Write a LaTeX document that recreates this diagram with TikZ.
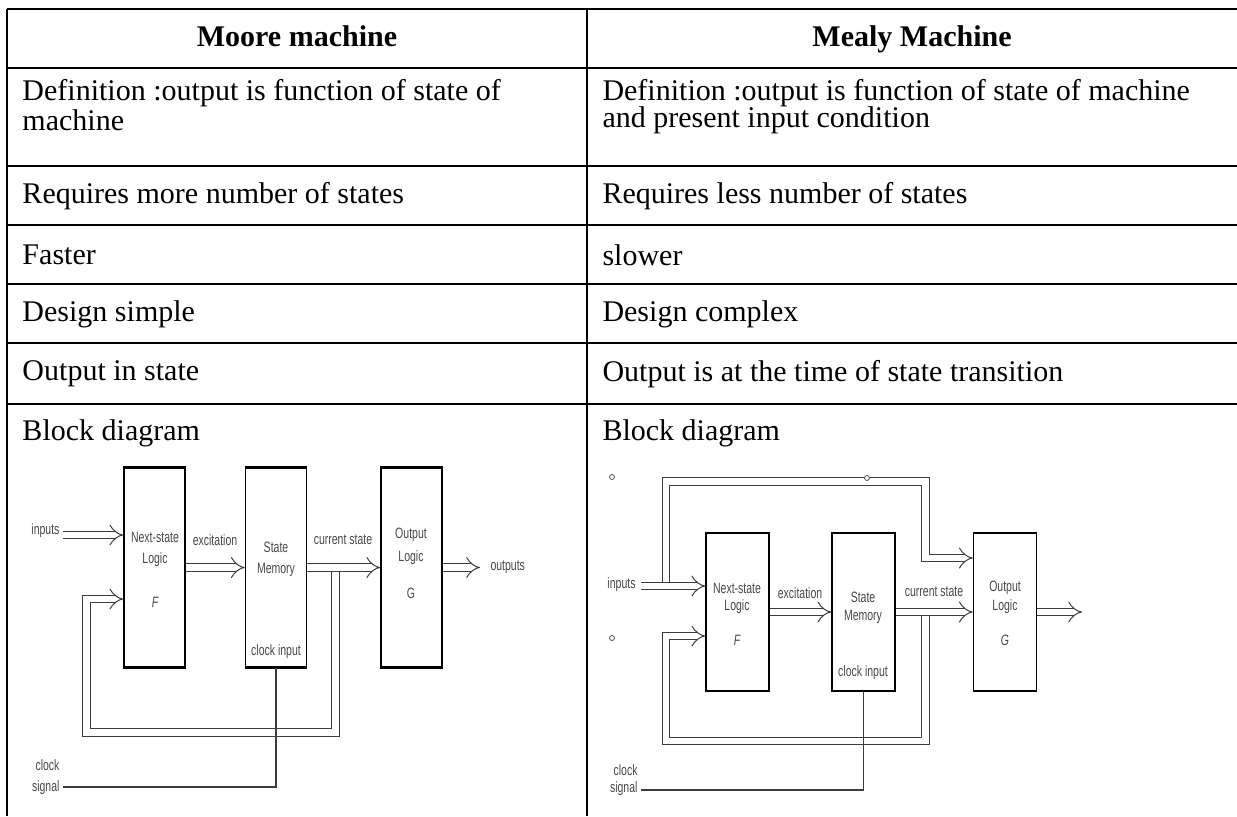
\documentclass[tikz,border=0pt]{standalone}
\usepackage{fontspec}
\setmainfont{Liberation Serif}
\newfontfamily\blockfont[FakeStretch=0.7]{Liberation Sans}
\usetikzlibrary{arrows.meta}
\definecolor{wireGray}{HTML}{3c3c3c}
\definecolor{labelGray}{HTML}{474747}
\tikzset{
  gridline/.style={line width=0.9pt},
  cell/.style={font=\fontsize{12}{13.8}\selectfont, anchor=west, inner sep=0pt},
  head/.style={font=\fontsize{12}{13.8}\selectfont\bfseries, anchor=base, inner sep=0pt},
  block/.style={draw=black, line width=0.6pt, inner sep=0pt},
  tag/.style={font=\blockfont\fontsize{6}{7}\selectfont, text=labelGray, inner sep=0pt},
  bus/.style={draw=wireGray, line width=0.4pt, double, double distance=2.6pt, -{Implies}},
  wire/.style={draw=wireGray, line width=0.45pt}
}
\begin{document}
\begin{tikzpicture}[x=0.4pt,y=-0.4pt]
\useasboundingbox (0,0) rectangle (1237,816);

% table rules
\foreach \y in {9,68,166,225,284,343,404}
  \draw[gridline] (7,\y) -- (1237,\y);
\draw[gridline] (7,9) -- (7,816);
\draw[gridline] (587,9) -- (587,816);

% table text
\node[head] (mooreHead) at (297,46) {Moore machine};
\node[head] (mealyHead) at (912,46) {Mealy Machine};
\node[cell] (mooreDef) at (22,93) {Definition :output is function of state of};
\node[cell] (mooreDefB) at (22,120) {machine};
\node[cell] (mealyDef) at (602,93) {Definition :output is function of state of machine};
\node[cell] (mealyDefB) at (602,120) {and present input condition};
\node[cell] (mooreStates) at (22,196) {Requires more number of states};
\node[cell] (mealyStates) at (602,196) {Requires less number of states};
\node[cell] (mooreSpeed) at (22,255) {Faster};
\node[cell] (mealySpeed) at (602,255) {slower};
\node[cell] (mooreDesign) at (22,314) {Design simple};
\node[cell] (mealyDesign) at (602,314) {Design complex};
\node[cell] (mooreOutput) at (22,374) {Output in state};
\node[cell] (mealyOutput) at (602,374) {Output is at the time of state transition};
\node[cell] (mooreBlock) at (22,433) {Block diagram};
\node[cell] (mealyBlock) at (602,433) {Block diagram};

% Moore block diagram
\tikzset{block/.append style={minimum width=24.4pt, minimum height=79.6pt}}
\node[block] (mooreNext) at (154.5,567.5) {};
\node[block] (mooreMem) at (276,567.5) {};
\node[block] (mooreOut) at (411.5,567.5) {};
\foreach \b in {mooreNext,mooreMem,mooreOut} {
  \draw[line width=1.2pt] (\b.north west) -- (\b.north east);
  \draw[line width=1.2pt] (\b.south west) -- (\b.south east);
}
\node[tag] (mooreNextA) at (155,537) {Next-state};
\node[tag] (mooreNextB) at (155,560) {Logic};
\node[tag] (mooreNextC) at (155,602) {\itshape F};
\node[tag] (mooreMemA) at (276,547) {State};
\node[tag] (mooreMemB) at (276,570) {Memory};
\node[tag] (mooreMemC) at (276,652) {clock input};
\node[tag] (mooreOutA) at (411,535) {Output};
\node[tag] (mooreOutB) at (411,558) {Logic};
\node[tag] (mooreOutC) at (411,593) {G};

\coordinate (mooreIn) at (63,535);
\coordinate (mooreOutEnd) at (480,567.5);
\coordinate (mooreTap) at (335.5,571.5);
\coordinate (mooreFbR) at (335.5,732.5);
\coordinate (mooreFbL) at (86.5,732.5);
\coordinate (mooreClk) at (63,787);
\draw[bus] (mooreIn) -- (mooreIn -| mooreNext.west);
\draw[bus] (mooreNext) -- (mooreMem);
\draw[bus] (mooreMem) -- (mooreOut);
\draw[bus] (mooreOut) -- (mooreOutEnd);
\draw[bus] (mooreTap) -- (mooreFbR) -- (mooreFbL) |- ([yshift=-12.6pt]mooreNext.west);
\draw[wire] (mooreClk) -| (mooreMem.south);

\node[tag, anchor=east] (mooreInTxt) at (60,531) {inputs};
\node[tag] (mooreExc) at (215,540) {excitation};
\node[tag] (mooreCur) at (343,540) {current state};
\node[tag, anchor=west] (mooreOutTxt) at (490,567) {outputs};
\node[tag, anchor=east] (mooreClkA) at (60,765) {clock};
\node[tag, anchor=east] (mooreClkB) at (60,788) {signal};

% Mealy block diagram
\tikzset{block/.append style={minimum width=25.2pt, minimum height=63.2pt}}
\node[block] (mealyNext) at (737.5,612) {};
\node[block] (mealyMem) at (863.5,612) {};
\node[block] (mealyOut) at (1005,612) {};
\node[tag] (mealyNextA) at (737,588) {Next-state};
\node[tag] (mealyNextB) at (737,607) {Logic};
\node[tag] (mealyNextC) at (737,640) {\itshape F};
\node[tag] (mealyMemA) at (863,597) {State};
\node[tag] (mealyMemB) at (863,617) {Memory};
\node[tag] (mealyMemC) at (863,673) {clock input};
\node[tag] (mealyOutA) at (1005,588) {Output};
\node[tag] (mealyOutB) at (1005,607) {Logic};
\node[tag] (mealyOutC) at (1005,640) {\itshape G};

\coordinate (mealyIn) at (641,586);
\coordinate (mealyTapIn) at (666,582);
\coordinate (mealyTopL) at (666,481.5);
\coordinate (mealyTopR) at (925.5,481.5);
\coordinate (mealyOutEnd) at (1082,612);
\coordinate (mealyTap) at (925.5,616);
\coordinate (mealyFbR) at (925.5,741);
\coordinate (mealyFbL) at (666,741);
\coordinate (mealyClk) at (641,790);
\draw[bus] (mealyIn) -- (mealyIn -| mealyNext.west);
\draw[bus] (mealyTapIn) -- (mealyTopL) -- (mealyTopR) |- ([yshift=21.6pt]mealyOut.west);
\draw[bus] (mealyNext) -- (mealyMem);
\draw[bus] (mealyMem) -- (mealyOut);
\draw[bus] (mealyOut) -- (mealyOutEnd);
\draw[bus] (mealyTap) -- (mealyFbR) -- (mealyFbL) |- ([yshift=-9.6pt]mealyNext.west);
\draw[wire] (mealyClk) -| (mealyMem.south);

\node[tag, anchor=east] (mealyInTxt) at (636,585) {inputs};
\node[tag] (mealyExc) at (800,593) {excitation};
\node[tag] (mealyCur) at (934,592) {current state};
\node[tag, anchor=east] (mealyClkA) at (638,770) {clock};
\node[tag, anchor=east] (mealyClkB) at (638,789) {signal};

% little marks left on the sheet
\draw[labelGray, line width=0.3pt] (612,477) circle[radius=1pt];
\draw[labelGray, line width=0.3pt] (612,638) circle[radius=1pt];
\draw[labelGray, line width=0.3pt, fill=white] (867,478) circle[radius=1pt];
\end{tikzpicture}
\end{document}
